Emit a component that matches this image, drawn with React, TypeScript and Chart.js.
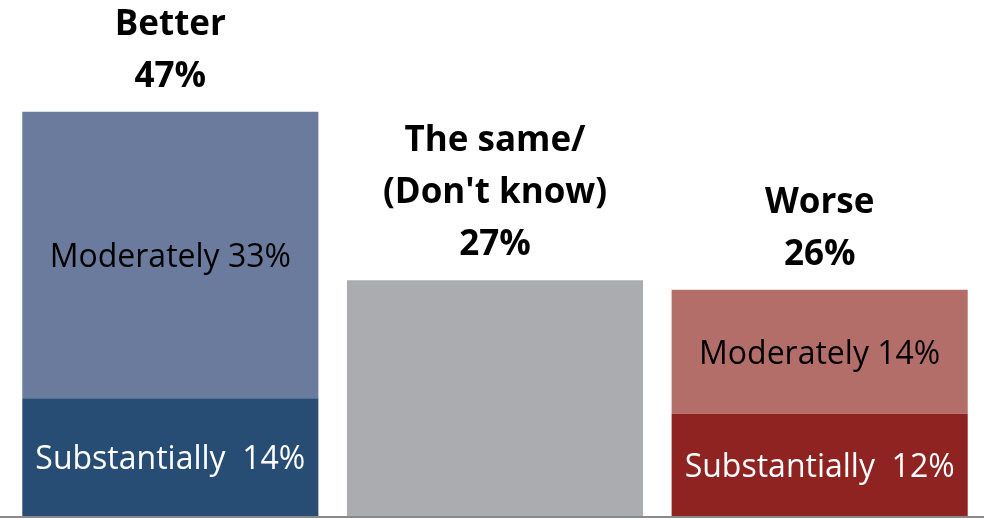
import React, { useEffect, useRef } from "react";
import { Chart, registerables } from "chart.js";

Chart.register(...registerables);

const categories = ["Better", "The same/", "Worse"];
const topLabels: string[][] = [["Better", "47%"], ["The same/", "(Don't know)", "27%"], ["Worse", "26%"]];
const substantially = [13.7, null, 11.9];
const moderately = [33.3, null, 14.4];
const same = [null, 27.4, null];
const substantiallyLabels = ["Substantially  14%", "", "Substantially  12%"];
const moderatelyLabels = ["Moderately 33%", "", "Moderately 14%"];
const sameLabels = ["", "", ""];

const FONT = "'Open Sans', 'Noto Sans', sans-serif";

const labelPlugin = {
  id: "labels",
  afterDatasetsDraw(chart: any) {
    const ctx = chart.ctx;
    ctx.save();
    const textSets = [substantiallyLabels, moderatelyLabels, sameLabels];
    const textColors = [["#ffffff", "", "#ffffff"], ["#000000", "", "#000000"], ["", "", ""]];
    chart.data.datasets.forEach((ds: any, di: number) => {
      const meta = chart.getDatasetMeta(di);
      meta.data.forEach((bar: any, i: number) => {
        const t = textSets[di][i];
        if (!t) return;
        const cy = (bar.y + bar.base) / 2 + 3;
        ctx.font = `32px ${FONT}`;
        ctx.fillStyle = textColors[di][i];
        ctx.textAlign = "center";
        ctx.textBaseline = "middle";
        ctx.fillText(t, bar.x, cy);
      });
    });
    const yScale = chart.scales.y;
    for (let i = 0; i < categories.length; i++) {
      let top = Infinity;
      let x = 0;
      chart.data.datasets.forEach((ds: any, di: number) => {
        const bar = chart.getDatasetMeta(di).data[i];
        if (ds.data[i] != null && bar.y < top) {
          top = bar.y;
          x = bar.x;
        }
      });
      const lines = topLabels[i];
      ctx.font = `bold 35px ${FONT}`;
      ctx.fillStyle = "#000000";
      ctx.textAlign = "center";
      ctx.textBaseline = "middle";
      lines.forEach((ln, k) => {
        const y = top - 35 - 52 * (lines.length - 1 - k);
        ctx.fillText(ln, x, y);
      });
    }
    const y0 = yScale.getPixelForValue(0);
    ctx.fillStyle = "#8a8a8a";
    ctx.fillRect(0, y0, chart.width, 2);
    ctx.restore();
  },
};

export default function App() {
  const ref = useRef<HTMLCanvasElement>(null);
  useEffect(() => {
    document.body.style.margin = "0";
    const chart = new Chart(ref.current!, {
      type: "bar",
      data: {
        labels: categories,
        datasets: [
          { label: "Substantially", data: substantially, backgroundColor: ["#284D75", "#284D75", "#8E2322"] },
          { label: "Moderately", data: moderately, backgroundColor: ["#6B7B9E", "#6B7B9E", "#B46E6A"] },
          { label: "Same", data: same, backgroundColor: "#ABACB0" },
        ],
      },
      options: {
        responsive: false,
        animation: false,
        maintainAspectRatio: false,
        layout: { padding: { left: 8, right: 2, top: 0, bottom: 3 } },
        datasets: { bar: { barPercentage: 0.912, categoryPercentage: 1 } },
        plugins: { legend: { display: false }, tooltip: { enabled: false } },
        scales: {
          x: { stacked: true, display: false },
          y: { stacked: true, display: false, min: 0, max: 60 },
        },
      },
      plugins: [labelPlugin],
    });
    return () => chart.destroy();
  }, []);
  return (
    <div style={{ position: "fixed", left: 0, top: 0, width: 984, height: 519, background: "#fff" }}>
      <canvas ref={ref} width={984} height={519} style={{ width: 984, height: 519 }} />
    </div>
  );
}
